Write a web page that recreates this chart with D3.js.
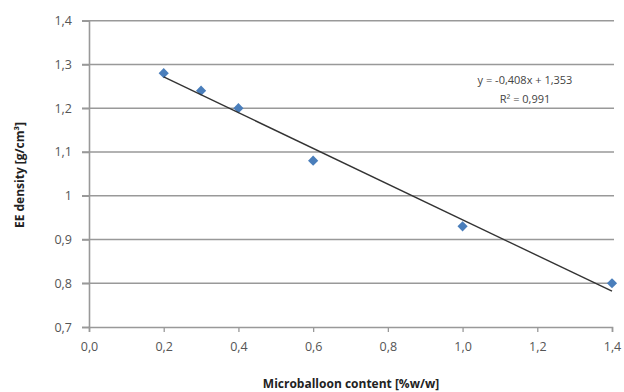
<!DOCTYPE html>
<html><head><meta charset="utf-8">
<script src="https://cdn.jsdelivr.net/npm/d3@7"></script>
<style>body{margin:0;background:#fff}svg{display:block}text{font-family:"Open Sans","Liberation Sans",sans-serif}</style>
</head><body><svg id="c" width="624" height="392"></svg>
<script>
const xValues = [0.2, 0.3, 0.4, 0.6, 1.0, 1.4];
const yValues = [1.28, 1.24, 1.20, 1.08, 0.93, 0.80];
const xTicks = [0, 0.2, 0.4, 0.6, 0.8, 1.0, 1.2, 1.4];
const yTicks = [0.7, 0.8, 0.9, 1.0, 1.1, 1.2, 1.3, 1.4];
const yTickLabels = ["0,7","0,8","0,9","1","1,1","1,2","1,3","1,4"];
const xTickLabels = ["0,0","0,2","0,4","0,6","0,8","1,0","1,2","1,4"];
const slope = -0.408, intercept = 1.353;
const eqLines = ["y = -0,408x + 1,353", "R² = 0,991"];

const svg = d3.select("#c");
const x = d3.scaleLinear().domain([0, 1.4]).range([89, 612]);
const y = d3.scaleLinear().domain([0.7, 1.4]).range([327, 20.7]);

// gridlines
svg.append("g").selectAll("line").data(yTicks.slice(1)).join("line")
  .attr("x1", 82).attr("x2", 614).attr("y1", d => y(d)).attr("y2", d => y(d))
  .attr("stroke", "#999").attr("stroke-width", 1.6);

// y axis
const ya = svg.append("g").attr("transform", "translate(89,0)")
  .call(d3.axisLeft(y).tickValues(yTicks).tickFormat((d,i) => yTickLabels[i]).tickSize(7).tickPadding(10));
ya.select(".domain").attr("stroke", "#999").attr("stroke-width", 1.6);
ya.selectAll(".tick line").attr("stroke", "#999").attr("stroke-width", 1.6);
ya.selectAll("text").attr("font-size", 12.5).attr("fill", "#555");

// x axis
const xa = svg.append("g").attr("transform", "translate(0,327)")
  .call(d3.axisBottom(x).tickValues(xTicks).tickFormat((d,i) => xTickLabels[i]).tickSize(5).tickPadding(10));
xa.select(".domain").attr("stroke", "#999").attr("stroke-width", 1.6);
xa.selectAll(".tick line").attr("stroke", "#999").attr("stroke-width", 1.3);
xa.selectAll("text").attr("font-size", 12.5).attr("fill", "#555");

// markers
svg.append("g").selectAll("path").data(xValues).join("path")
  .attr("d", d3.symbol().type(d3.symbolSquare).size(52))
  .attr("transform", (d,i) => `translate(${x(d)},${y(yValues[i])}) rotate(45)`)
  .attr("fill", "#4a7ebb");

// trend line
const x0 = d3.min(xValues), x1 = d3.max(xValues);
svg.append("line")
  .attr("x1", x(x0)).attr("y1", y(slope*x0+intercept))
  .attr("x2", x(x1)).attr("y2", y(slope*x1+intercept))
  .attr("stroke", "#333").attr("stroke-width", 1.4);

// equation
svg.append("g").selectAll("text").data(eqLines).join("text")
  .attr("x", 525).attr("y", (d,i) => 84 + i*19)
  .attr("text-anchor", "middle").attr("font-size", 11).attr("fill", "#444")
  .text(d => d);

// axis titles
svg.append("text").attr("x", 351).attr("y", 388).attr("text-anchor", "middle")
  .attr("font-size", 12).attr("font-weight", "bold").attr("fill", "#222")
  .text("Microballoon content [%w/w]");
svg.append("text").attr("transform", "translate(24,175) rotate(-90)").attr("text-anchor", "middle")
  .attr("font-size", 12).attr("font-weight", "bold").attr("fill", "#222")
  .text("EE density [g/cm³]");
</script></body></html>
